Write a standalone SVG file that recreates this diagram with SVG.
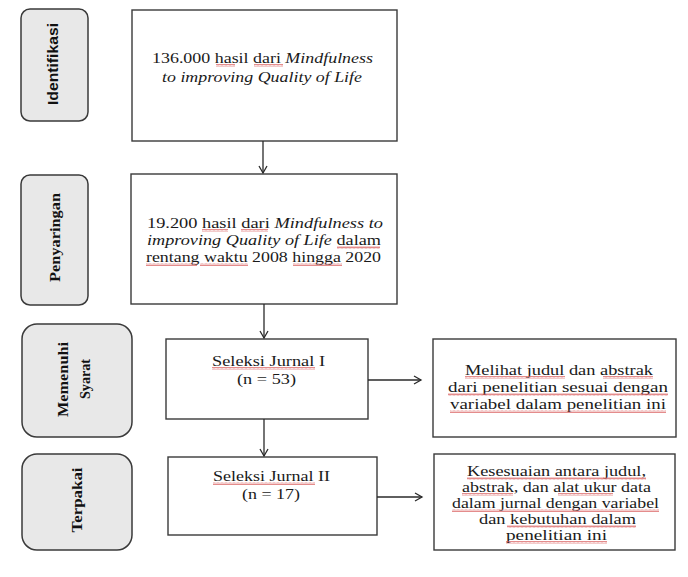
<svg xmlns="http://www.w3.org/2000/svg" width="688" height="577" viewBox="0 0 688 577">
<style>
.bg{fill:#fff}
.side{fill:#e8e8e8;stroke:#3a3a3a;stroke-width:1.5}
.box{fill:#fff;stroke:#3a3a3a;stroke-width:1.4}
.t{font-family:"Liberation Serif","Times New Roman",serif;font-size:15.5px;fill:#1a1a1a;text-anchor:middle}
.t2{font-family:"Liberation Serif","Times New Roman",serif;font-size:14.5px;fill:#1a1a1a;text-anchor:middle}
.lab{font-family:"Liberation Serif","Times New Roman",serif;font-size:15px;font-weight:bold;fill:#111;text-anchor:middle}
.labs{font-family:"Liberation Sans",Arial,sans-serif;font-size:14px;font-weight:bold;fill:#111;text-anchor:middle}
.c{fill:none;stroke:#2a2a2a;stroke-width:1.3}
.sq{fill:url(#wave)}
</style>
<defs>
<marker id="ah" markerWidth="10" markerHeight="10" refX="8" refY="5" orient="auto" markerUnits="userSpaceOnUse">
<path d="M1,1 L8,5 L1,9" fill="none" stroke="#2a2a2a" stroke-width="1.3"/>
</marker>
<pattern id="wave" width="4" height="3" patternUnits="userSpaceOnUse">
<path d="M0,2.5 L1,0.5 L2,2.5 L3,0.5 L4,2.5" fill="none" stroke="#d85a5a" stroke-width="0.7"/>
</pattern>
</defs>
<rect class="bg" x="0" y="0" width="688" height="577"/>

<g id="lab-identifikasi">
<rect class="side" x="21" y="9" width="67" height="112" rx="9"/>
<text class="labs" transform="translate(58,64) rotate(-90)" textLength="82" lengthAdjust="spacingAndGlyphs">Identifikasi</text>
</g>
<g id="lab-penyaringan">
<rect class="side" x="21" y="175" width="67" height="130" rx="9"/>
<text class="lab" transform="translate(60,237.5) rotate(-90)" textLength="89" lengthAdjust="spacingAndGlyphs">Penyaringan</text>
</g>
<g id="lab-memenuhi">
<rect class="side" x="22" y="324" width="110" height="113" rx="15"/>
<text class="lab" transform="translate(68,379.5) rotate(-90)" textLength="75" lengthAdjust="spacingAndGlyphs">Memenuhi</text>
<text class="lab" transform="translate(90,379) rotate(-90)" textLength="40" lengthAdjust="spacingAndGlyphs">Syarat</text>
</g>
<g id="lab-terpakai">
<rect class="side" x="22" y="454" width="110" height="96" rx="15"/>
<text class="lab" transform="translate(82,500) rotate(-90)" textLength="65" lengthAdjust="spacingAndGlyphs">Terpakai</text>
</g>

<g id="n-identifikasi">
<rect class="box" x="132" y="10" width="265" height="131"/>
<text class="t" x="262.5" y="63" textLength="221" lengthAdjust="spacingAndGlyphs">136.000 hasil dari <tspan font-style="italic">Mindfulness</tspan></text>
<text class="t" x="262" y="82" font-style="italic" textLength="200" lengthAdjust="spacingAndGlyphs">to improving Quality of Life</text>
<rect class="sq" x="216" y="64" width="19" height="3"/>
<rect class="sq" x="254" y="64" width="29" height="3"/>
</g>
<g id="n-penyaringan">
<rect class="box" x="131" y="174" width="266" height="130"/>
<text class="t" x="265" y="228" textLength="236" lengthAdjust="spacingAndGlyphs">19.200 hasil dari <tspan font-style="italic">Mindfulness to</tspan></text>
<text class="t" x="264" y="245" textLength="234" lengthAdjust="spacingAndGlyphs"><tspan font-style="italic">improving Quality of Life</tspan> dalam</text>
<text class="t" x="263.5" y="262" textLength="235" lengthAdjust="spacingAndGlyphs">rentang waktu 2008 hingga 2020</text>
<rect class="sq" x="202" y="229" width="26" height="3"/>
<rect class="sq" x="241" y="229" width="27" height="3"/>
<rect class="sq" x="337" y="246" width="43" height="3"/>
<rect class="sq" x="146" y="263" width="51" height="3"/>
<rect class="sq" x="200" y="263" width="48" height="3"/>
<rect class="sq" x="293" y="263" width="49" height="3"/>
</g>
<g id="n-seleksi1">
<rect class="box" x="166" y="339" width="202" height="80"/>
<text class="t" x="268.5" y="366" textLength="113" lengthAdjust="spacingAndGlyphs">Seleksi Jurnal I</text>
<text class="t" x="266.5" y="384" textLength="59" lengthAdjust="spacingAndGlyphs">(n = 53)</text>
<rect class="sq" x="212" y="367" width="103" height="3"/>
</g>
<g id="n-seleksi2">
<rect class="box" x="168" y="457" width="209" height="78"/>
<text class="t" x="271.5" y="481" textLength="117" lengthAdjust="spacingAndGlyphs">Seleksi Jurnal II</text>
<text class="t" x="271" y="499" textLength="58" lengthAdjust="spacingAndGlyphs">(n = 17)</text>
<rect class="sq" x="213" y="482" width="102" height="3"/>
</g>
<g id="n-kriteria1">
<rect class="box" x="433" y="339" width="243" height="98"/>
<text class="t" x="559" y="375" textLength="188" lengthAdjust="spacingAndGlyphs">Melihat judul dan abstrak</text>
<text class="t" x="558" y="392" textLength="220" lengthAdjust="spacingAndGlyphs">dari penelitian sesuai dengan</text>
<text class="t" x="558" y="409" textLength="216" lengthAdjust="spacingAndGlyphs">variabel dalam penelitian ini</text>
<rect class="sq" x="465" y="376" width="100" height="3"/>
<rect class="sq" x="603" y="376" width="50" height="3"/>
<rect class="sq" x="448" y="393" width="220" height="3"/>
<rect class="sq" x="450" y="410" width="216" height="3"/>
</g>
<g id="n-kriteria2">
<rect class="box" x="434" y="454" width="241" height="96"/>
<text class="t2" x="556.5" y="476" textLength="179" lengthAdjust="spacingAndGlyphs">Kesesuaian antara judul,</text>
<text class="t2" x="556.5" y="492" textLength="189" lengthAdjust="spacingAndGlyphs">abstrak, dan alat ukur data</text>
<text class="t2" x="555.5" y="508" textLength="207" lengthAdjust="spacingAndGlyphs">dalam jurnal dengan variabel</text>
<text class="t2" x="557.5" y="524" textLength="157" lengthAdjust="spacingAndGlyphs">dan kebutuhan dalam</text>
<text class="t2" x="556.5" y="540" textLength="101" lengthAdjust="spacingAndGlyphs">penelitian ini</text>
<rect class="sq" x="467" y="477" width="179" height="3"/>
<rect class="sq" x="462" y="493" width="51" height="3"/>
<rect class="sq" x="558" y="493" width="55" height="3"/>
<rect class="sq" x="452" y="509" width="207" height="3"/>
<rect class="sq" x="507" y="525" width="129" height="3"/>
<rect class="sq" x="506" y="541" width="101" height="3"/>
</g>

<g id="connectors">
<line class="c" x1="263" y1="141" x2="263" y2="173" marker-end="url(#ah)"/>
<line class="c" x1="264" y1="304" x2="264" y2="338" marker-end="url(#ah)"/>
<line class="c" x1="264" y1="419" x2="264" y2="456" marker-end="url(#ah)"/>
<line class="c" x1="368" y1="380" x2="421" y2="380" marker-end="url(#ah)"/>
<line class="c" x1="377" y1="497" x2="422" y2="497" marker-end="url(#ah)"/>
</g>
</svg>
